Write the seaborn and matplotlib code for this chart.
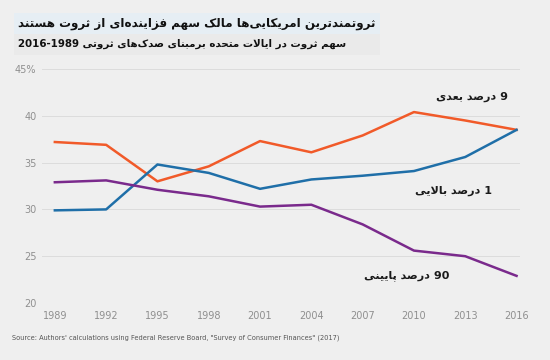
import matplotlib
matplotlib.use("Agg")
import matplotlib.pyplot as plt
import seaborn as sns
import pandas as pd
import re

# ---------------- data ----------------
years = [1989, 1992, 1995, 1998, 2001, 2004, 2007, 2010, 2013, 2016]
next9 = [37.2, 36.9, 33.0, 34.6, 37.3, 36.1, 37.9, 40.4, 39.5, 38.5]
top1 = [29.9, 30.0, 34.8, 33.9, 32.2, 33.2, 33.6, 34.1, 35.6, 38.5]
bottom90 = [32.9, 33.1, 32.1, 31.4, 30.3, 30.5, 28.4, 25.6, 25.0, 22.9]

series_names = ["9 درصد بعدی", "1 درصد بالایی", "90 درصد پایینی"]
series_colors = ["#f15a29", "#1f6fa8", "#7a2a8c"]
yticks = [20, 25, 30, 35, 40, 45]
ytick_labels = ["20", "25", "30", "35", "40", "45%"]

title = "ثروتمندترین امریکایی‌ها مالک سهم فزاینده‌ای از ثروت هستند"
subtitle = "سهم ثروت در ایالات متحده برمبنای صدک‌های ثروتی 1989-2016"
source = 'Source: Authors\' calculations using Federal Reserve Board, "Survey of Consumer Finances" (2017)'

# ---------------- minimal Persian shaping ----------------
FORMS = {
    'ا': (0xFE8D, 0xFE8E, None, None), 'آ': (0xFE81, 0xFE82, None, None),
    'ب': (0xFE8F, 0xFE90, 0xFE91, 0xFE92), 'پ': (0xFB56, 0xFB57, 0xFB58, 0xFB59),
    'ت': (0xFE95, 0xFE96, 0xFE97, 0xFE98), 'ث': (0xFE99, 0xFE9A, 0xFE9B, 0xFE9C),
    'ج': (0xFE9D, 0xFE9E, 0xFE9F, 0xFEA0), 'چ': (0xFB7A, 0xFB7B, 0xFB7C, 0xFB7D),
    'ح': (0xFEA1, 0xFEA2, 0xFEA3, 0xFEA4), 'خ': (0xFEA5, 0xFEA6, 0xFEA7, 0xFEA8),
    'د': (0xFEA9, 0xFEAA, None, None), 'ذ': (0xFEAB, 0xFEAC, None, None),
    'ر': (0xFEAD, 0xFEAE, None, None), 'ز': (0xFEAF, 0xFEB0, None, None),
    'ژ': (0xFB8A, 0xFB8B, None, None),
    'س': (0xFEB1, 0xFEB2, 0xFEB3, 0xFEB4), 'ش': (0xFEB5, 0xFEB6, 0xFEB7, 0xFEB8),
    'ص': (0xFEB9, 0xFEBA, 0xFEBB, 0xFEBC), 'ض': (0xFEBD, 0xFEBE, 0xFEBF, 0xFEC0),
    'ط': (0xFEC1, 0xFEC2, 0xFEC3, 0xFEC4), 'ظ': (0xFEC5, 0xFEC6, 0xFEC7, 0xFEC8),
    'ع': (0xFEC9, 0xFECA, 0xFECB, 0xFECC), 'غ': (0xFECD, 0xFECE, 0xFECF, 0xFED0),
    'ف': (0xFED1, 0xFED2, 0xFED3, 0xFED4), 'ق': (0xFED5, 0xFED6, 0xFED7, 0xFED8),
    'ک': (0xFB8E, 0xFB8F, 0xFB90, 0xFB91), 'گ': (0xFB92, 0xFB93, 0xFB94, 0xFB95),
    'ل': (0xFEDD, 0xFEDE, 0xFEDF, 0xFEE0), 'م': (0xFEE1, 0xFEE2, 0xFEE3, 0xFEE4),
    'ن': (0xFEE5, 0xFEE6, 0xFEE7, 0xFEE8), 'و': (0xFEED, 0xFEEE, None, None),
    'ه': (0xFEE9, 0xFEEA, 0xFEEB, 0xFEEC), 'ی': (0xFBFC, 0xFBFD, 0xFBFE, 0xFBFF),
}
LAMALEF = {'ا': (0xFEFB, 0xFEFC), 'آ': (0xFEF5, 0xFEF6)}


def dual(c):
    return c in FORMS and FORMS[c][2] is not None


def shape(text):
    out = []
    chars = list(text)
    n = len(chars)
    i = 0
    while i < n:
        c = chars[i]
        if c not in FORMS:
            if c != '\u200c':
                out.append(c)
            i += 1
            continue
        prev = chars[i - 1] if i > 0 else ''
        pj = dual(prev)
        if c == 'ل' and i + 1 < n and chars[i + 1] in LAMALEF:
            iso, fin = LAMALEF[chars[i + 1]]
            out.append(chr(fin if pj else iso))
            i += 2
            continue
        nxt = chars[i + 1] if i + 1 < n else ''
        nj = dual(c) and nxt in FORMS
        iso, fin, ini, med = FORMS[c]
        if pj and nj:
            f = med
        elif pj:
            f = fin
        elif nj:
            f = ini
        else:
            f = iso
        out.append(chr(f))
        i += 1
    vis = ''.join(out)[::-1]
    vis = re.sub(r'[0-9A-Za-z.%]+', lambda m: m.group(0)[::-1], vis)
    return vis


# ---------------- plot ----------------
df = pd.DataFrame({
    "year": years * 3,
    "value": next9 + top1 + bottom90,
    "group": [series_names[0]] * len(years) + [series_names[1]] * len(years)
             + [series_names[2]] * len(years),
})

bg = "#efefef"
fig = plt.figure(figsize=(5.5, 3.6), dpi=100, facecolor=bg)
ax = fig.add_axes([0.0764, 0.1583, 0.869, 0.65])
ax.set_facecolor(bg)

sns.lineplot(data=df, x="year", y="value", hue="group", hue_order=series_names,
             palette=series_colors, linewidth=1.8, legend=False, ax=ax)

ax.set_xlim(1988.25, 2016.2)
ax.set_ylim(20, 45)
ax.set_xticks(years)
ax.set_xticklabels([str(y) for y in years])
ax.set_yticks(yticks)
ax.set_yticklabels(ytick_labels)
ax.tick_params(axis='both', length=0, labelsize=7, labelcolor="#8f8f8f")
ax.tick_params(axis='x', pad=6)
ax.tick_params(axis='y', pad=4)
ax.set_xlabel("")
ax.set_ylabel("")
ax.grid(axis='y', color="#dcdcdc", linewidth=0.7)
ax.grid(axis='x', visible=False)
ax.set_axisbelow(True)
for s in ax.spines.values():
    s.set_visible(False)

lab_pos = [(2013.4, 42.0), (2012.3, 32.0), (2009.6, 22.9)]
for name, (x, y) in zip(series_names, lab_pos):
    ax.text(x, y, shape(name), ha='center', va='center', fontsize=8,
            fontweight='bold', color="#1a1a1a")

fig.patches.append(plt.Rectangle((0.025, 0.905), 0.665, 0.06, transform=fig.transFigure,
                                 facecolor="#e6eef4", edgecolor='none', zorder=0))
fig.patches.append(plt.Rectangle((0.025, 0.848), 0.665, 0.057, transform=fig.transFigure,
                                 facecolor="#eaeaea", edgecolor='none', zorder=0))
fig.text(0.033, 0.935, shape(title), ha='left', va='center', fontsize=8.6,
         fontweight='bold', color="#111111")
fig.text(0.033, 0.877, shape(subtitle), ha='left', va='center', fontsize=7.4,
         fontweight='bold', color="#111111")
fig.text(0.022, 0.062, source, ha='left', va='center', fontsize=4.8, color="#555555")

fig.savefig("out.png", dpi=100, facecolor=bg)
